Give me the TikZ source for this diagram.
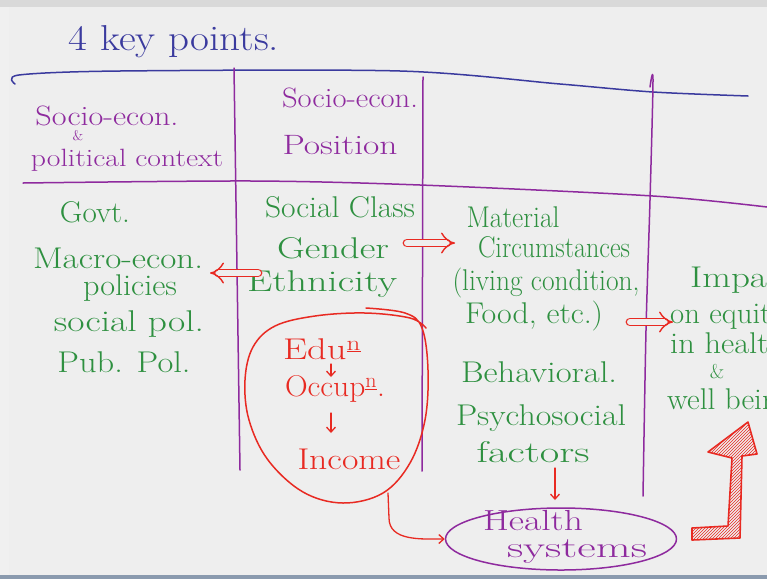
\documentclass[tikz,border=0pt]{standalone}
\usepackage{fontspec}
\usetikzlibrary{arrows.meta,shapes.geometric,patterns}
\definecolor{bgc}{HTML}{EEEEEE}
\definecolor{hblue}{HTML}{3A3A9E}
\definecolor{hpurple}{HTML}{8E2A9E}
\definecolor{hgreen}{HTML}{2E9040}
\definecolor{hred}{HTML}{E82A22}
\definecolor{hslate}{HTML}{8A9AAE}
\newcommand{\hw}[2]{\resizebox{#1pt}{\height}{#2}}
\newcommand{\fs}[1]{\fontsize{#1}{#1}\selectfont}
\begin{document}
\begin{tikzpicture}[x=1pt,y=-1pt,line cap=round,line join=round,
  ink/.style={line width=1.5pt},
  btxt/.style={text=hblue,inner sep=0pt,font=\fs{36}},
  ptxt/.style={text=hpurple,inner sep=0pt,font=\fs{28}},
  gtxt/.style={text=hgreen,inner sep=0pt,font=\fs{30}},
  rtxt/.style={text=hred,inner sep=0pt,font=\fs{30}},
  dbl/.style={draw=hred,line width=1.4pt,double=bgc,double distance=6pt,-{Implies}},
  sarr/.style={draw=hred,line width=1.3pt,-{Straight Barb[length=5pt,width=9pt]}}]
\useasboundingbox (0,0) rectangle (767,579);
\clip (0,0) rectangle (767,579);
\fill[bgc] (0,0) rectangle (767,579);
\fill[gray!30] (0,0) rectangle (767,7);
\fill[gray!12] (0,7) rectangle (9,575);
\fill[hslate] (0,575) rectangle (767,579);

% grid lines
\draw[hblue,ink] plot[smooth] coordinates {(15,84) (19,75) (120,71) (400,71) (560,84) (653,92) (748,96)};
\draw[hpurple,ink] plot[smooth] coordinates {(23,183) (252,181) (420,185) (653,196) (767,207)};
\draw[hpurple,ink] (234,68) -- (240,470);
\draw[hpurple,ink] (423,77) -- (422,471);
\draw[hpurple,ink] plot[smooth] coordinates {(650,87) (653,80) (650,200) (646,330) (643,496)};

% title and headers
\node[btxt] (title) at (174,42) {\hw{210}{4 key points.}};
\node[ptxt] (h1a) at (107,116) {\hw{143}{Socio-econ.}};
\node[ptxt,font=\fs{14}] (h1b) at (78,136) {\&};
\node[ptxt,font=\fs{25}] (h1c) at (127,160) {\hw{192}{political context}};
\node[ptxt] (h2a) at (350,98) {\hw{136}{Socio-econ.}};
\node[ptxt] (h2b) at (340,145) {\hw{115}{Position}};

% column 1
\node[gtxt] (govt) at (95,212) {\hw{70}{Govt.}};
\node[gtxt] (macro) at (118,258) {\hw{170}{Macro-econ.}};
\node[gtxt] (pol) at (130,288) {\hw{94}{policies}};
\node[gtxt] (socpol) at (129,324) {\hw{150}{social pol.}};
\node[gtxt] (pubpol) at (124,362) {\hw{133}{Pub. Pol.}};

% column 2
\node[gtxt] (class) at (340,207) {\hw{150}{Social Class}};
\node[gtxt] (gender) at (333,248) {\hw{112}{Gender}};
\node[gtxt] (eth) at (322,284) {\hw{150}{Ethnicity}};
\node[rtxt] (edu) at (322,349) {\hw{78}{Edu$^{\underline{\mathrm{n}}}$}};
\node[rtxt] (occup) at (335,389) {\hw{100}{Occup$^{\underline{\mathrm{n}}}$.}};
\node[rtxt] (income) at (349,459) {\hw{103}{Income}};

% column 3
\node[gtxt] (mat) at (513,217) {\hw{93}{Material}};
\node[gtxt] (circ) at (554,247) {\hw{152}{Circumstances}};
\node[gtxt] (living) at (546,283) {\hw{187}{(living condition,}};
\node[gtxt] (food) at (534,316) {\hw{138}{Food, etc.)}};
\node[gtxt] (behav) at (539,372) {\hw{156}{Behavioral.}};
\node[gtxt] (psycho) at (541,418) {\hw{170}{Psychosocial}};
\node[gtxt] (factors) at (533,452) {\hw{113}{factors}};

% column 4
\node[gtxt,anchor=west] (impact) at (690,280) {\hw{105}{Impact}};
\node[gtxt,anchor=west] (equity) at (670,317) {\hw{115}{on equity}};
\node[gtxt,anchor=west] (inhealth) at (670,343) {\hw{115}{in health}};
\node[gtxt,font=\fs{20}] (amp) at (717,372) {\&};
\node[gtxt,anchor=west] (well) at (667,402) {\hw{125}{well being}};

% health systems
\node[draw=hpurple,ink,ellipse,minimum width=231pt,minimum height=62pt] (hs) at (561,539) {};
\node[ptxt,font=\fs{29}] (hl) at (533,521) {\hw{100}{Health}};
\node[ptxt,font=\fs{29}] (sy) at (577,552) {\hw{140}{systems}};

% red blob
\draw[hred,ink] plot[smooth,tension=0.6] coordinates {(366,308) (405,313) (422,328) (428,370) (425,420) (410,463) (383,493) (343,503) (303,492) (268,460) (249,420) (245,380) (253,347) (275,326) (315,316) (365,313) (410,318) (426,328)};
\coordinate (blobS) at (388,493);

% arrows
\coordinate (aL1) at (258,273); \coordinate (aL2) at (210,273);
\draw[dbl] (aL1) -- (aL2);
\coordinate (aR1) at (407,243); \coordinate (aR2) at (455,243);
\draw[dbl] (aR1) -- (aR2);
\coordinate (aS1) at (630,322); \coordinate (aS2) at (673,322);
\draw[dbl] (aS1) -- (aS2);
\draw[sarr] (331,364) -- (331,377);
\draw[sarr] (331,413) -- (331,433);
\draw[sarr] (555,468) -- (555,500);
\draw[sarr] (blobS) -- (389,518) to[out=-90,in=180] (hs.west);

% big hatched arrow
\draw[hred,line width=1.6pt,pattern=north east lines,pattern color=hred]
  (692,528) -- (728,526) -- (732,458) -- (708,452) -- (748,422) -- (757,454) -- (742,456) -- (740,538) -- (692,540) -- cycle;
\end{tikzpicture}
\end{document}
